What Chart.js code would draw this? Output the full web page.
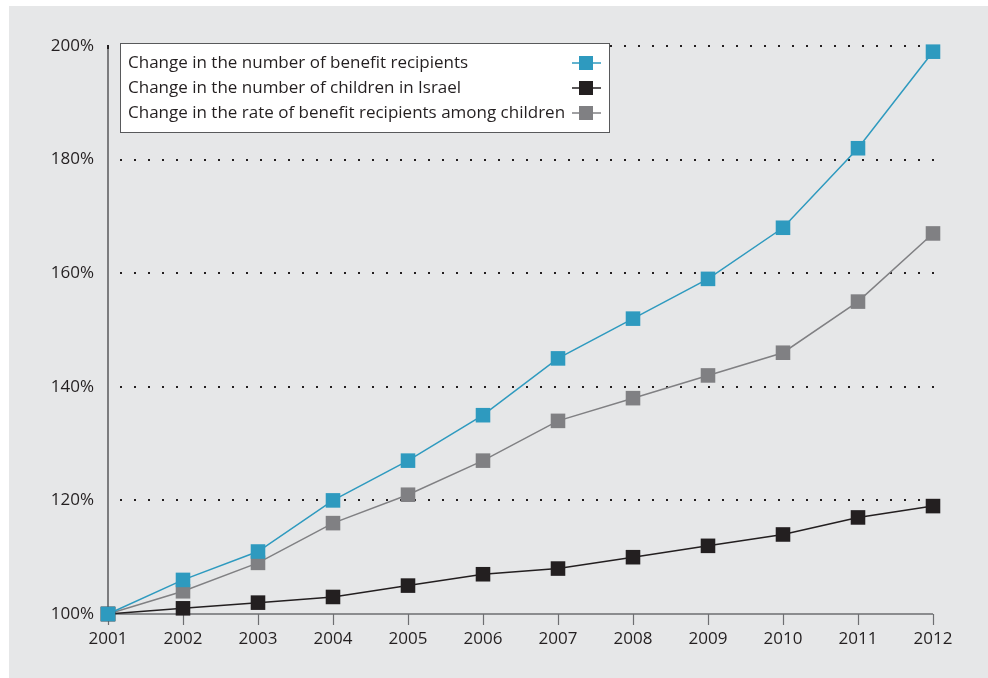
<!DOCTYPE html>
<html>
<head>
<meta charset="utf-8">
<script src="https://cdn.jsdelivr.net/npm/chart.js@4.4.1/dist/chart.umd.min.js"></script>
<style>
  html, body { margin: 0; padding: 0; background: #ffffff; }
  #wrap { width: 988px; height: 678px; position: relative; }
</style>
</head>
<body>
<div id="wrap"><canvas id="benefitChart" width="988" height="678"></canvas></div>
<script>
// Years and index values (2001 = 100%)
const years = ['2001', '2002', '2003', '2004', '2005', '2006', '2007', '2008', '2009', '2010', '2011', '2012'];
const benefitRecipients = [100, 106, 111, 120, 127, 135, 145, 152, 159, 168, 182, 199];
const childrenInIsrael = [100, 101, 102, 103, 105, 107, 108, 110, 112, 114, 117, 119];
const rateAmongChildren = [100, 104, 109, 116, 121, 127, 134, 138, 142, 146, 155, 167];
const yTicks = [100, 120, 140, 160, 180, 200];

const seriesLabels = [
  'Change in the number of benefit recipients',
  'Change in the number of children in Israel',
  'Change in the rate of benefit recipients among children'
];
const seriesColors = ['#2e9abf', '#231f20', '#808083'];

const FONT = '"Open Sans", "DejaVu Sans", sans-serif';
const TEXT = '#231f20';

// grey panel behind everything
const panelPlugin = {
  id: 'panel',
  beforeDraw(chart) {
    const ctx = chart.ctx;
    ctx.save();
    ctx.fillStyle = '#ffffff';
    ctx.fillRect(0, 0, chart.width, chart.height);
    ctx.fillStyle = '#e6e7e8';
    ctx.fillRect(9, 6, chart.width - 9, chart.height - 6);
    ctx.restore();
  }
};

// dotted horizontal guides, y axis line, x axis line with ticks
const axesPlugin = {
  id: 'axesDraw',
  beforeDatasetsDraw(chart) {
    const ctx = chart.ctx;
    const area = chart.chartArea;
    const y = chart.scales.y;
    const x = chart.scales.x;
    ctx.save();
    ctx.fillStyle = '#231f20';
    yTicks.forEach(v => {
      if (v === 100) return;
      const py = Math.round(y.getPixelForValue(v));
      for (let px = area.right; px > area.left + 8; px -= 14) {
        ctx.fillRect(Math.round(px) - 1, py - 1, 2, 2);
      }
    });
    // y axis
    ctx.strokeStyle = '#58595b';
    ctx.lineWidth = 1.5;
    ctx.beginPath();
    ctx.moveTo(area.left, area.top);
    ctx.lineTo(area.left, area.bottom);
    ctx.stroke();
    ctx.fillStyle = '#231f20';
    ctx.fillRect(area.left - 1, area.top - 1, 2, 4);
    // x axis + ticks
    ctx.strokeStyle = '#6d6e71';
    ctx.lineWidth = 1.5;
    ctx.beginPath();
    ctx.moveTo(area.left, area.bottom);
    ctx.lineTo(area.right, area.bottom);
    ctx.stroke();
    ctx.lineWidth = 1.2;
    years.forEach((yr, i) => {
      const px = Math.round(x.getPixelForValue(i)) + 0.5;
      ctx.beginPath();
      ctx.moveTo(px, area.bottom);
      ctx.lineTo(px, area.bottom + 11);
      ctx.stroke();
    });
    ctx.restore();
  }
};

// boxed legend, text on the left and a line+square sample on the right
const legendPlugin = {
  id: 'boxLegend',
  afterDraw(chart) {
    const ctx = chart.ctx;
    const bx = 120, by = 43, bw = 489, bh = 89;
    ctx.save();
    ctx.fillStyle = '#ffffff';
    ctx.fillRect(bx, by, bw, bh);
    ctx.strokeStyle = '#58595b';
    ctx.lineWidth = 1;
    ctx.strokeRect(bx + 0.5, by + 0.5, bw, bh);
    ctx.font = '17px ' + FONT;
    ctx.textBaseline = 'middle';
    chart.data.datasets.forEach((ds, i) => {
      const ty = by + 20 + i * 25;
      ctx.fillStyle = TEXT;
      ctx.fillText(ds.label, bx + 8, ty);
      ctx.strokeStyle = ds.borderColor;
      ctx.lineWidth = 1.5;
      ctx.beginPath();
      ctx.moveTo(bx + 452, ty);
      ctx.lineTo(bx + 481, ty);
      ctx.stroke();
      ctx.fillStyle = ds.backgroundColor;
      ctx.fillRect(bx + 459, ty - 7, 14, 14);
    });
    ctx.restore();
  }
};

function makeSet(label, data, color) {
  return {
    label: label,
    data: data,
    borderColor: color,
    backgroundColor: color,
    borderWidth: 1.5,
    pointStyle: 'rect',
    pointRadius: 10.3,
    pointHoverRadius: 10.3,
    pointBorderWidth: 0,
    tension: 0,
    fill: false,
    clip: false
  };
}

new Chart(document.getElementById('benefitChart'), {
  type: 'line',
  data: {
    labels: years,
    datasets: [
      makeSet(seriesLabels[0], benefitRecipients, seriesColors[0]),
      makeSet(seriesLabels[1], childrenInIsrael, seriesColors[1]),
      makeSet(seriesLabels[2], rateAmongChildren, seriesColors[2])
    ]
  },
  options: {
    responsive: false,
    animation: false,
    devicePixelRatio: 1,
    layout: { padding: { left: 0, right: 55, top: 46, bottom: 0 } },
    plugins: {
      legend: { display: false },
      tooltip: { enabled: false }
    },
    scales: {
      x: {
        offset: false,
        grid: { display: false, drawTicks: false },
        border: { display: false },
        ticks: {
          color: TEXT,
          font: { family: FONT, size: 17 },
          padding: 15,
          maxRotation: 0,
          autoSkip: false
        },
        afterFit(scale) { scale.height = 64; }
      },
      y: {
        min: 100,
        max: 200,
        afterBuildTicks(scale) { scale.ticks = yTicks.map(v => ({ value: v })); },
        grid: { display: false, drawTicks: false },
        border: { display: false },
        ticks: {
          color: TEXT,
          font: { family: FONT, size: 17 },
          padding: 14,
          callback: v => v + '%'
        },
        afterFit(scale) { scale.width = 108; }
      }
    }
  },
  plugins: [panelPlugin, axesPlugin, legendPlugin]
});
</script>
</body>
</html>
